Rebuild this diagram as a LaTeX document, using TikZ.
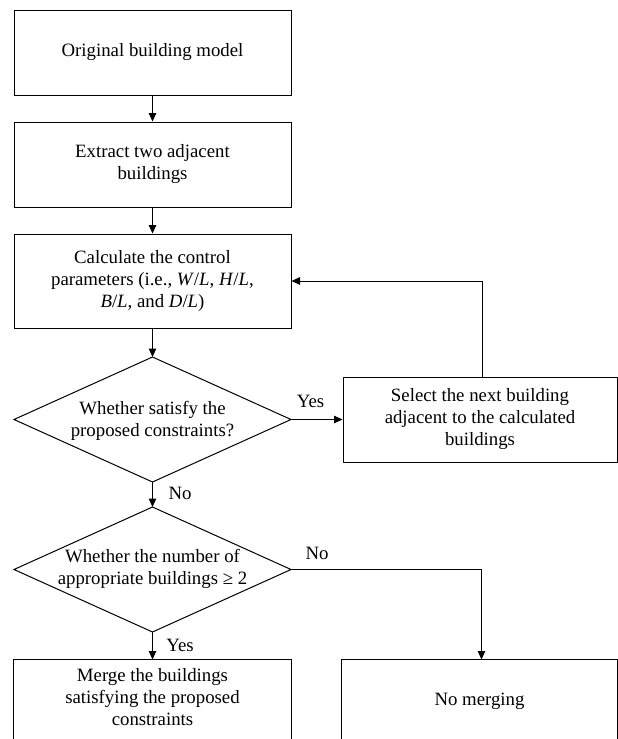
\documentclass[tikz,border=0pt]{standalone}
\usepackage{fontspec}
\setmainfont{Liberation Serif}
\usetikzlibrary{arrows.meta}
\begin{document}
\begin{tikzpicture}[x=1pt,y=-1pt,
  font=\fontsize{18.8}{22}\selectfont,
  line width=1pt,
  box/.style={draw, minimum width=277pt, inner sep=0pt, align=center},
  txt/.style={inner sep=0pt, align=center},
  lbl/.style={inner sep=0pt},
  arr/.style={-{Triangle[length=8.5pt,width=7.5pt]}}]
\useasboundingbox (0,0) rectangle (618,739);
\clip (0,0) rectangle (618,739);
% boxes
\node[box, minimum height=85pt] (orig) at (152.5,52.5) {Original building model};
\node[box, minimum height=85pt] (extr) at (152.5,164.5) {Extract two adjacent\\buildings};
\node[box, minimum height=94pt] (calc) at (152.5,281) {Calculate the control\\parameters (i.e., \textit{W}/\textit{L}, \textit{H}/\textit{L},\\\textit{B}/\textit{L}, and \textit{D}/\textit{L})};
% diamond 1
\coordinate (d1n) at (152.5,357);
\coordinate (d1s) at (152.5,482);
\coordinate (d1w) at (14,419.5);
\coordinate (d1e) at (291,419.5);
\draw (d1n) -- (d1e) -- (d1s) -- (d1w) -- cycle;
\node[txt] (d1) at (152.5,421) {Whether satisfy the\\proposed constraints?};
% select box
\node[box, minimum width=274pt, minimum height=85pt] (sel) at (480,419.5) {Select the next building\\adjacent to the calculated\\buildings};
% diamond 2
\coordinate (d2n) at (152.5,507);
\coordinate (d2s) at (152.5,632);
\coordinate (d2w) at (14,569.5);
\coordinate (d2e) at (291,569.5);
\draw (d2n) -- (d2e) -- (d2s) -- (d2w) -- cycle;
\node[txt] (d2) at (152.5,569) {Whether the number of\\appropriate buildings ≥ 2};
% bottom boxes (cut off at page bottom)
\node[txt, minimum width=277pt, minimum height=74pt] (merge) at (152.5,697) {Merge the buildings\\satisfying the proposed\\constraints};
\draw ([yshift=-40pt]merge.south west) -- (merge.north west) -- (merge.north east) -- ([yshift=-40pt]merge.south east);
\node[txt, minimum width=275pt, minimum height=82pt] (nomerge) at (479.5,701) {No merging};
\draw ([yshift=-40pt]nomerge.south west) -- (nomerge.north west) -- (nomerge.north east) -- ([yshift=-40pt]nomerge.south east);
% connectors
\draw[arr] (orig) -- (extr);
\draw[arr] (extr) -- (calc);
\draw[arr] (calc) -- (d1n);
\draw[arr] (d1e) -- (sel.west);
\draw[arr] ([xshift=2pt]sel.north) |- (calc.east);
\draw[arr] (d1s) -- (d2n);
\draw[arr] (d2s) -- (merge.north);
\draw[arr] (d2e) -| ([xshift=2pt]nomerge.north);
% labels
\node[lbl] (yes1) at (310.5,401) {Yes};
\node[lbl] (no1) at (180,493) {No};
\node[lbl] (yes2) at (180,645) {Yes};
\node[lbl] (no2) at (317,553) {No};
\end{tikzpicture}
\end{document}
